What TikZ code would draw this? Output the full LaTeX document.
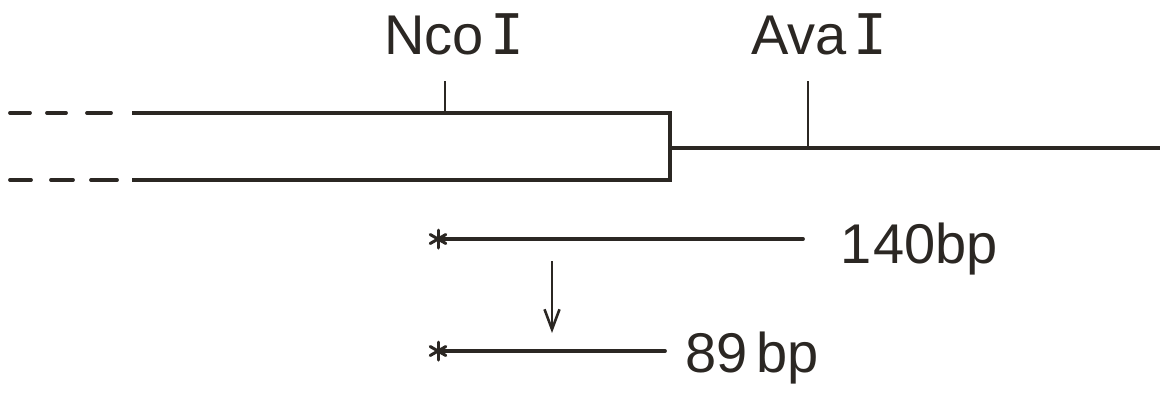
\documentclass[tikz,border=0pt]{standalone}
\usepackage{fontspec}
\setmainfont{Liberation Sans}
\newfontfamily\serifI{DejaVu Sans Mono}
\usetikzlibrary{arrows.meta,calc}
\definecolor{ink}{HTML}{2B2723}
\begin{document}
\begin{tikzpicture}[x=1pt,y=-1pt,
  strand/.style={line width=3.8pt, color=ink},
  dashpiece/.style={line width=3.8pt, color=ink, line cap=round},
  site/.style={line width=2.6pt, color=ink},
  lbl/.style={anchor=base west, inner sep=0pt, text=ink, font=\fontsize{56}{60}\selectfont},
  probe/.style={line width=3.8pt, color=ink},
  starmark/.style={line width=3pt, color=ink, line cap=round}]
  \useasboundingbox (0,0) rectangle (1168,392);

  % dashed continuation of both strands on the left
  \foreach \a/\b in {10/30, 47/66, 87/111}{
    \draw[dashpiece] (\a,113) -- (\b,113);
  }
  \foreach \a/\b in {10/31, 51/73, 91/117}{
    \draw[dashpiece] (\a,180) -- (\b,180);
  }

  % double-stranded region closed at its right end, single strand beyond
  \coordinate (tb) at (132,113);
  \coordinate (tc) at (670,113);
  \coordinate (bb) at (132,180);
  \coordinate (bc) at (670,180);
  \coordinate (jm) at (670,148);
  \coordinate (re) at (1160,148);
  \draw[strand, line join=miter] (tb) -- (tc) -- (bc) -- (bb);
  \draw[strand] (jm) -- (re);

  % restriction sites
  \coordinate (nco) at (445,113);
  \coordinate (ncotop) at (445,81);
  \coordinate (ava) at (808,148);
  \coordinate (avatop) at (808,81);
  \draw[site] (nco) -- (ncotop);
  \draw[site] (ava) -- (avatop);
  \node[lbl] (ncolbl) at (384,54) {Nco\hspace{7pt}{\serifI I}};
  \node[lbl] (avalbl) at (751,54) {Ava\hspace{7pt}{\serifI I}};

  % labelled probe fragments, each with its end label mark
  \coordinate (p1s) at (438,239);
  \coordinate (p1e) at (803,239);
  \coordinate (p2s) at (438,351);
  \coordinate (p2e) at (665,351);
  \draw[probe, line cap=round] (p1s) -- (p1e);
  \draw[probe, line cap=round] (p2s) -- (p2e);
  \foreach \c in {p1s,p2s}{
    \foreach \a in {90,30,150}{
      \draw[starmark] ($(\c)+(\a:9)$) -- ($(\c)+(\a+180:9)$);
    }
  }
  \node[lbl] (l140) at (840,263) {1\hspace{2pt}40bp};
  \node[lbl] (l89) at (685,372) {89\,bp};

  % digestion arrow
  \coordinate (aw) at (552,261);
  \coordinate (ah) at (552,333);
  \draw[site, -{Straight Barb[length=20pt,width=15pt,line width=2.6pt]}] (aw) -- (ah);
\end{tikzpicture}
\end{document}
